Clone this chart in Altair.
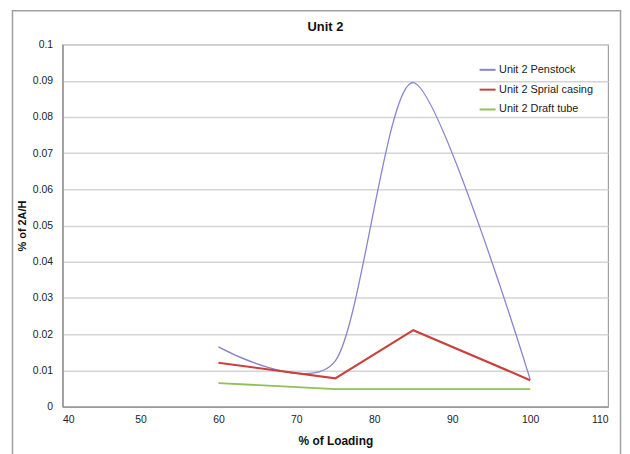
import altair as alt
import pandas as pd

loading = [60, 75, 85, 100]
penstock = [0.0165, 0.0126, 0.0895, 0.0075]
spiral = [0.0121, 0.0078, 0.0211, 0.0073]
draft = [0.0065, 0.0048, 0.0048, 0.0048]

series_names = ["Unit 2 Penstock", "Unit 2 Sprial casing", "Unit 2 Draft tube"]
series_colors = ["#8585d0", "#c8413c", "#92c054"]
x_ticks = [40, 50, 60, 70, 80, 90, 100, 110]
y_ticks = [0, 0.01, 0.02, 0.03, 0.04, 0.05, 0.06, 0.07, 0.08, 0.09, 0.1]
chart_title = "Unit 2"

rows = []
for name, vals in zip(series_names, [penstock, spiral, draft]):
    for xv, yv in zip(loading, vals):
        rows.append({"series": name, "loading": xv, "value": yv})
df = pd.DataFrame(rows)

FONT = "Liberation Sans"

xenc = alt.X("loading:Q", scale=alt.Scale(domain=[40, 110], nice=False),
             axis=alt.Axis(values=x_ticks, title="% of Loading", grid=False, ticks=False,
                           labelPadding=8, titlePadding=11))
yenc = alt.Y("value:Q", scale=alt.Scale(domain=[0, 0.1], nice=False),
             axis=alt.Axis(values=y_ticks, format="~g", title="% of 2A/H", ticks=False,
                           labelPadding=10, titlePadding=5))
color = alt.Color("series:N", scale=alt.Scale(domain=series_names, range=series_colors),
                  legend=alt.Legend(title=None, orient="none", legendX=419, legendY=16,
                                    symbolType="stroke", symbolSize=260, symbolStrokeWidth=2,
                                    labelFontSize=11, labelFont=FONT, labelColor="#222",
                                    rowPadding=5, labelOffset=2))

base = alt.Chart(df)

pen = base.transform_filter(alt.datum.series == series_names[0]).mark_line(
    interpolate="cardinal", tension=0.2, strokeWidth=1.3).encode(x=xenc, y=yenc, color=color)
spi = base.transform_filter(alt.datum.series == series_names[1]).mark_line(
    strokeWidth=2.2).encode(x=xenc, y=yenc, color=color)
dra = base.transform_filter(alt.datum.series == series_names[2]).mark_line(
    strokeWidth=1.8).encode(x=xenc, y=yenc, color=color)

border = alt.Chart(pd.DataFrame({"a": [0]})).mark_rect(
    fill=None, stroke="#a0a0a0", strokeWidth=1.5).encode(
    x=alt.value(-50.5), x2=alt.value(562.5), y=alt.value(-34), y2=alt.value(430))

title_text = alt.Chart(pd.DataFrame({"t": [chart_title]})).mark_text(
    font=FONT, fontSize=13, fontWeight="bold", color="#111", baseline="middle", align="center"
).encode(text="t:N", x=alt.value(265), y=alt.value(-18))

chart = alt.layer(border, title_text, pen, spi, dra).properties(
    width=550, height=365,
    autosize=alt.AutoSizeParams(type="none"),
    padding={"left": 55, "top": 35, "right": 14, "bottom": 46},
).configure_view(stroke="#a0a0a0", strokeWidth=1.2).configure_axis(
    labelFont=FONT, labelFontSize=10.5, labelColor="#222",
    titleFont=FONT, titleFontWeight="bold", titleColor="#111",
    gridColor="#d4d4d4", gridWidth=1.5, domainColor="#8a8a8a", domainWidth=1.2,
).configure_axisX(titleFontSize=12).configure_axisY(titleFontSize=11)

chart.save("out.html", embed_options={"renderer": "svg", "actions": False})
